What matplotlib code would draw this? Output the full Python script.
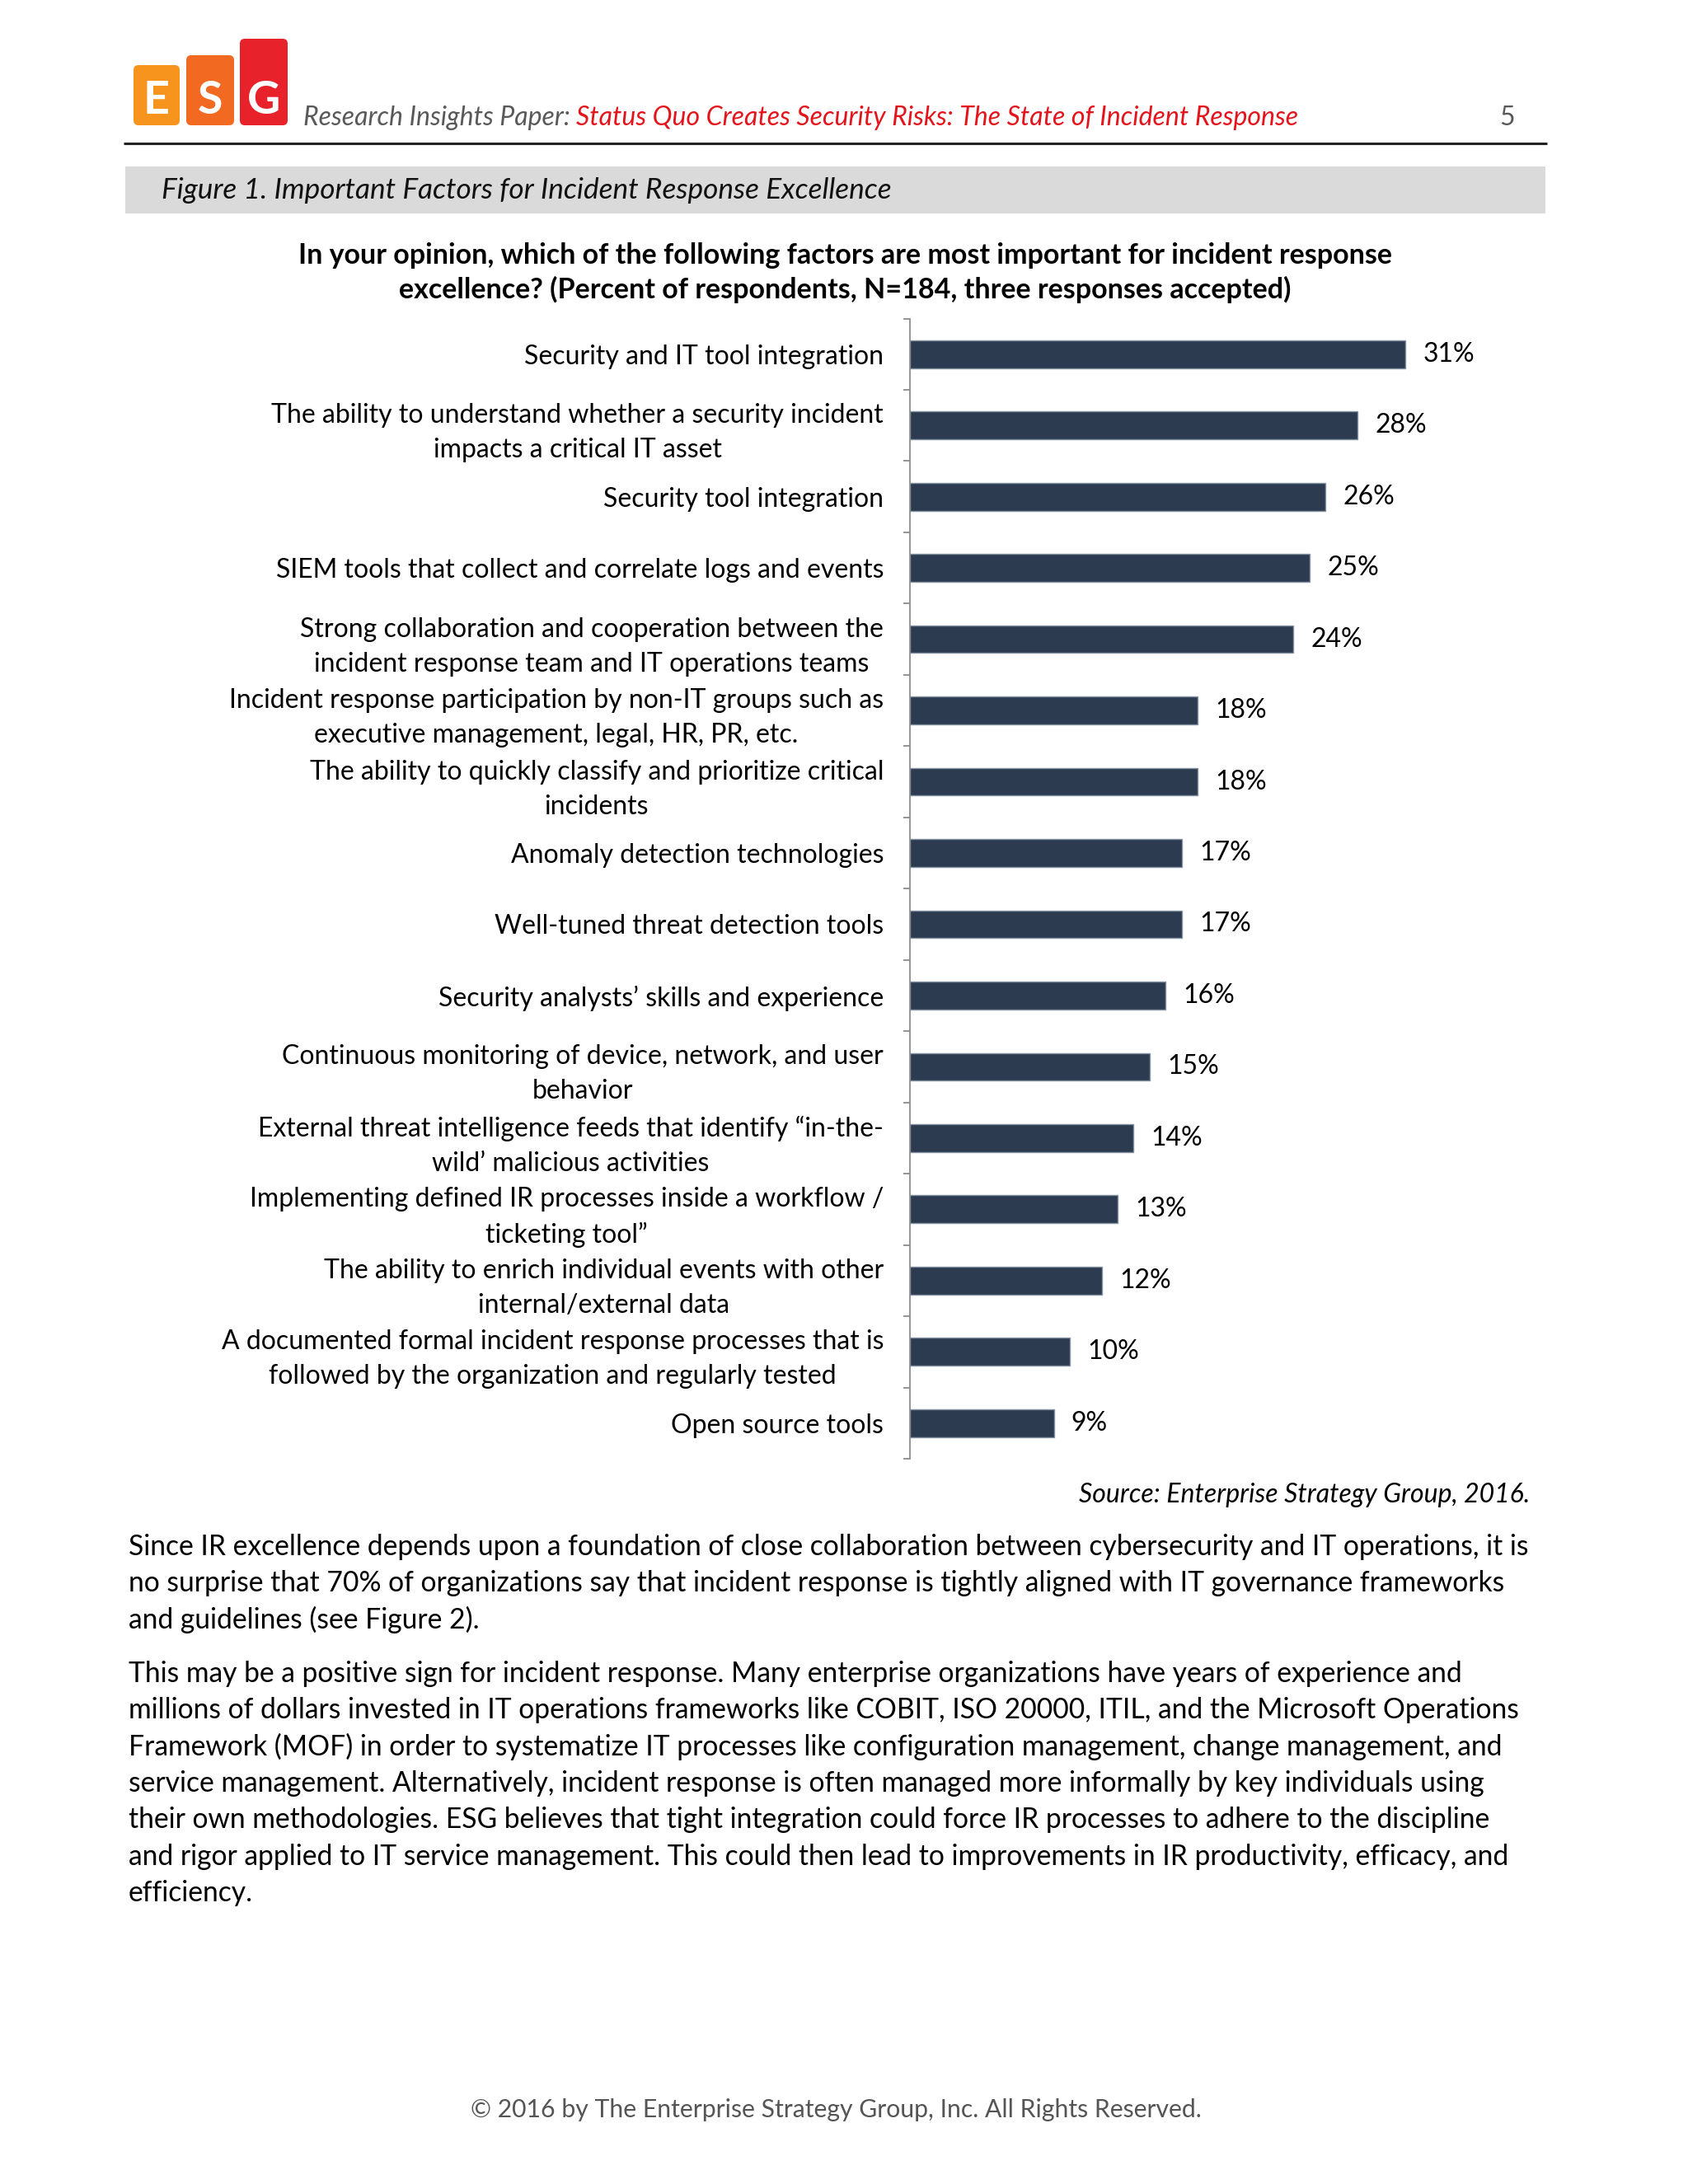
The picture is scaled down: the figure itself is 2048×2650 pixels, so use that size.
import matplotlib
matplotlib.use('Agg')
import matplotlib.pyplot as plt
import numpy as np
from matplotlib.patches import FancyBboxPatch, Rectangle

# ---------------- data ----------------
categories = [
    "Security and IT tool integration",
    "The ability to understand whether a security incident\nimpacts a critical IT asset",
    "Security tool integration",
    "SIEM tools that collect and correlate logs and events",
    "Strong collaboration and cooperation between the\nincident response team and IT operations teams",
    "Incident response participation by non-IT groups such as\nexecutive management, legal, HR, PR, etc.",
    "The ability to quickly classify and prioritize critical\nincidents",
    "Anomaly detection technologies",
    "Well-tuned threat detection tools",
    "Security analysts\u2019 skills and experience",
    "Continuous monitoring of device, network, and user\nbehavior",
    "External threat intelligence feeds that identify \u201cin-the-\nwild\u2019 malicious activities",
    "Implementing defined IR processes inside a workflow /\nticketing tool\u201d",
    "The ability to enrich individual events with other\ninternal/external data",
    "A documented formal incident response processes that is\nfollowed by the organization and regularly tested",
    "Open source tools",
]
values = [31, 28, 26, 25, 24, 18, 18, 17, 17, 16, 15, 14, 13, 12, 10, 9]
value_labels = [f"{v}%" for v in values]

header_prefix = "Research Insights Paper: "
header_title = "Status Quo Creates Security Risks: The State of Incident Response"
page_number = "5"
figure_caption = "Figure 1. Important Factors for Incident Response Excellence"
chart_title = ("In your opinion, which of the following factors are most important for incident response\n"
               "excellence? (Percent of respondents, N=184, three responses accepted)")
source_text = "Source: Enterprise Strategy Group, 2016."
para1 = [
    "Since IR excellence depends upon a foundation of close collaboration between cybersecurity and IT operations, it is",
    "no surprise that 70% of organizations say that incident response is tightly aligned with IT governance frameworks",
    "and guidelines (see Figure 2).",
]
para2 = [
    "This may be a positive sign for incident response. Many enterprise organizations have years of experience and",
    "millions of dollars invested in IT operations frameworks like COBIT, ISO 20000, ITIL, and the Microsoft Operations",
    "Framework (MOF) in order to systematize IT processes like configuration management, change management, and",
    "service management. Alternatively, incident response is often managed more informally by key individuals using",
    "their own methodologies. ESG believes that tight integration could force IR processes to adhere to the discipline",
    "and rigor applied to IT service management. This could then lead to improvements in IR productivity, efficacy, and",
    "efficiency.",
]
footer = "\u00a9 2016 by The Enterprise Strategy Group, Inc. All Rights Reserved."
logo_letters = ["E", "S", "G"]

# ---------------- figure ----------------
W, H = 2048, 2650
plt.rcParams['font.family'] = ['Lato', 'DejaVu Sans']
fig = plt.figure(figsize=(W / 100, H / 100), dpi=100)
fig.patch.set_facecolor('white')

bg = fig.add_axes([0, 0, 1, 1])
bg.set_xlim(0, W)
bg.set_ylim(H, 0)
bg.axis('off')

# logo
logo_boxes = [(162, 79, 56, 73, '#F7941D'), (226, 67, 58, 85, '#F26A21'), (291, 47, 58, 105, '#E8222B')]
for (x, y, w, h, c), letter in zip(logo_boxes, logo_letters):
    bg.add_patch(FancyBboxPatch((x, y), w, h, boxstyle="round,pad=0,rounding_size=6",
                                facecolor=c, edgecolor='none'))
    bg.text(x + w / 2, 122, letter, color='white', fontsize=40, fontweight='bold',
            ha='center', va='center')

# header
t1 = bg.text(368, 152, header_prefix, color='#595959', fontsize=23, style='italic',
             ha='left', va='baseline')
fig.canvas.draw()
r = fig.canvas.get_renderer()
ext = t1.get_window_extent(renderer=r)
bg.text(ext.x1, 152, header_title, color='#E3141B', fontsize=23, style='italic',
        ha='left', va='baseline')
bg.text(1838, 152, page_number, color='#595959', fontsize=23, ha='right', va='baseline')
bg.plot([150, 1877], [174, 174], color='#222222', lw=2.2, solid_capstyle='butt')

# caption band
bg.add_patch(Rectangle((152, 202), 1723, 57, facecolor='#DADADA', edgecolor='none'))
bg.text(196, 231, figure_caption, fontsize=25.4, style='italic', color='#111111',
        ha='left', va='center')

# chart title
bg.text(1025, 331, chart_title, fontsize=24.5, fontweight='bold', ha='center', va='center',
        multialignment='center', linespacing=1.3, color='black')

# source
bg.text(1856, 1814, source_text, fontsize=23, style='italic', ha='right', va='center')

# body paragraphs
y = 1877
for line in para1:
    bg.text(156, y, line, fontsize=24.2, ha='left', va='center')
    y += 44.3
y = 2031
for line in para2:
    bg.text(156, y, line, fontsize=24.2, ha='left', va='center')
    y += 44.3

bg.text(1014, 2560, footer, fontsize=21.7, color='#555555', ha='center', va='center')

# ---------------- chart ----------------
ax_left, ax_top, ax_bottom = 1104, 386.5, 1770
xmax = 35
px_per_unit = 19.39
ax = fig.add_axes([ax_left / W, 1 - ax_bottom / H, xmax * px_per_unit / W, (ax_bottom - ax_top) / H])
ax.patch.set_alpha(0)
ypos = np.arange(len(categories))
ax.barh(ypos, values, height=0.39, color='#2C3B4F', edgecolor='#8593A2', linewidth=1.0)
for yi, v, lab in zip(ypos, values, value_labels):
    ax.text(v + 1.1, yi, lab, fontsize=23, ha='left', va='center', color='black')
ax.set_xlim(0, xmax)
ax.set_ylim(len(categories) - 0.5, -0.5)
for s in ['top', 'right', 'bottom']:
    ax.spines[s].set_visible(False)
ax.spines['left'].set_color('#8C8C8C')
ax.spines['left'].set_linewidth(1.3)
ax.set_xticks([])
ax.set_yticks(ypos)
ax.set_yticklabels(categories, fontsize=23)
for lbl in ax.get_yticklabels():
    lbl.set_multialignment('center')
    lbl.set_linespacing(1.5)
ax.tick_params(axis='y', which='major', length=0, pad=23)
ax.set_yticks(np.arange(-0.5, len(categories), 1), minor=True)
ax.tick_params(axis='y', which='minor', length=6, width=1.3, color='#8C8C8C', direction='out')

fig.savefig('out.png', dpi=100, facecolor='white')
